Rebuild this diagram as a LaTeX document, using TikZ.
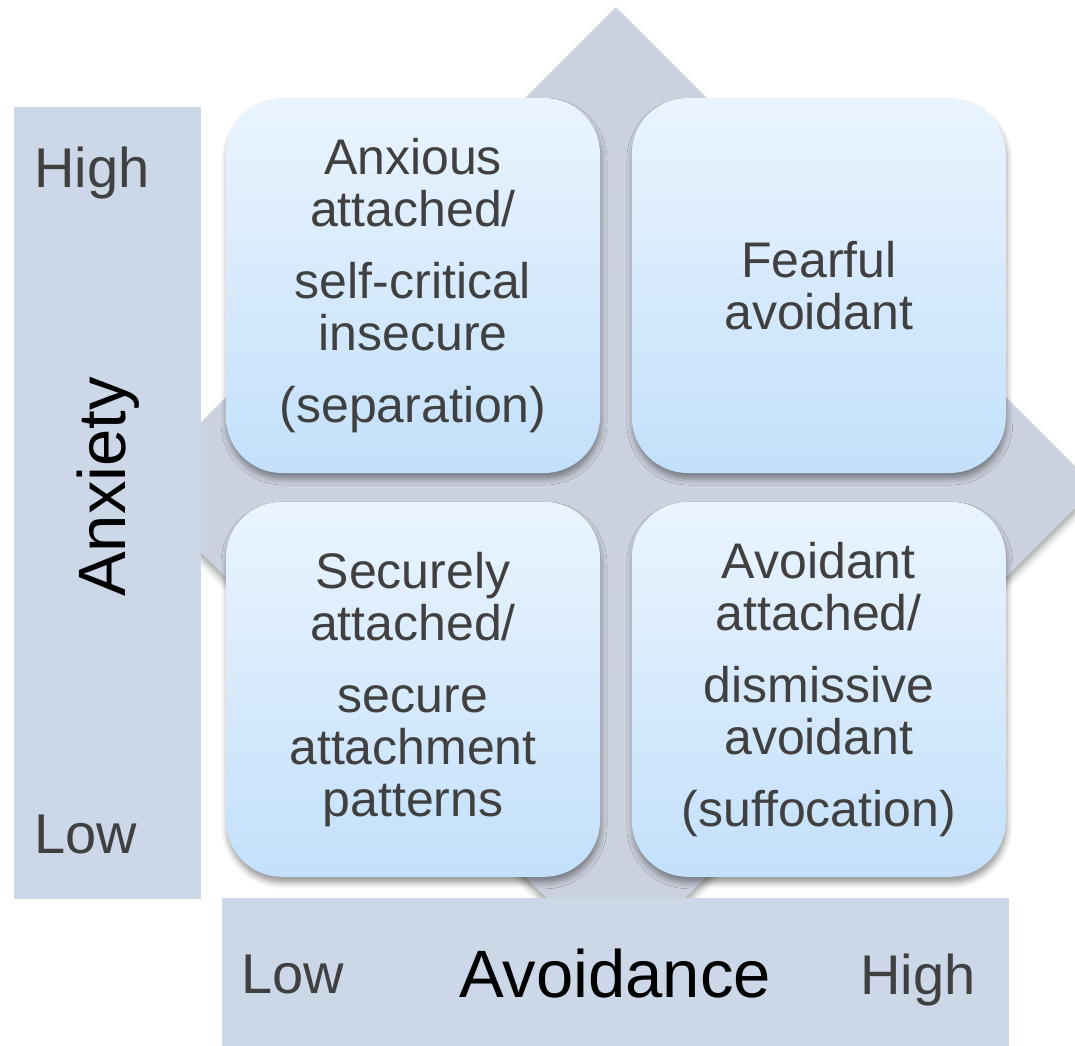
\documentclass[tikz,border=0pt]{standalone}
\usepackage{fontspec}
\setmainfont{Liberation Sans}
\usetikzlibrary{positioning,backgrounds,shadows.blur}

\definecolor{quadtop}{HTML}{EAF4FE}
\definecolor{quadbottom}{HTML}{C3E0FB}
\definecolor{diamondgray}{HTML}{CBD1DD}
\definecolor{axisblue}{HTML}{CCD8E8}
\definecolor{textgray}{HTML}{404040}

\begin{document}
\begin{tikzpicture}[%
    x=0.5pt, y=-0.5pt,
    quadrant/.style={
        rectangle,
        rounded corners=28pt,
        minimum width=187pt,
        minimum height=187.5pt,
        inner sep=0pt,
        align=center,
        top color=quadtop,
        bottom color=quadbottom,
        text=textgray,
        font=\fontsize{25}{26}\selectfont,
        blur shadow={shadow xshift=0.5pt, shadow yshift=-3pt,
                     shadow blur radius=3pt, shadow opacity=40}
        },
    axisbar/.style={fill=axisblue, inner sep=0pt},
    level/.style={text=textgray, font=\fontsize{28}{28}\selectfont,
                  anchor=base, inner sep=0pt},
    axisname/.style={text=black, font=\fontsize{33.5}{34}\selectfont,
                     anchor=base, inner sep=0pt},
    node distance=14pt and 15.5pt
]

\useasboundingbox (0,0) rectangle (1075,1045);

% the four quadrants
\node[quadrant] (tl) at (413,285.5)
    {Anxious\\attached/\\[10pt]self-critical\\insecure\\[10pt](separation)};
\node[quadrant, right=of tl] (tr) {Fearful\\avoidant};
\node[quadrant, below=of tl] (bl)
    {Securely\\attached/\\[10pt]secure\\attachment\\patterns};
\node[quadrant, below=of tr] (br)
    {Avoidant\\attached/\\[10pt]dismissive\\avoidant\\[10pt](suffocation)};

\path (tl.south east) -- (br.north west) coordinate[pos=.5] (hub);

\begin{scope}[on background layer]
\fill[diamondgray, blur shadow={shadow xshift=0pt, shadow yshift=-3pt,
                                shadow blur radius=3pt, shadow opacity=35}]
    ([yshift=240pt]hub) -- ([xshift=240pt]hub)
    -- ([yshift=-240pt]hub) -- ([xshift=-240pt]hub) -- cycle;
\end{scope}

% axes
\node[axisbar, minimum width=93.5pt, minimum height=396pt] (anxbar) at (107.5,503) {};
\node[axisbar, minimum width=393.5pt, minimum height=74pt] (avbar) at (615.5,972) {};

\node[level] (anxhigh) at (92,187) {High};
\node[level] (anxlow) at (86,853) {Low};
\node[axisname, rotate=90] (anxname) at (125,487) {Anxiety};

\node[level] (avlow) at (293,993) {Low};
\node[level] (avhigh) at (918,994) {High};
\node[axisname] (avname) at (615,997) {Avoidance};
\end{tikzpicture}
\end{document}
